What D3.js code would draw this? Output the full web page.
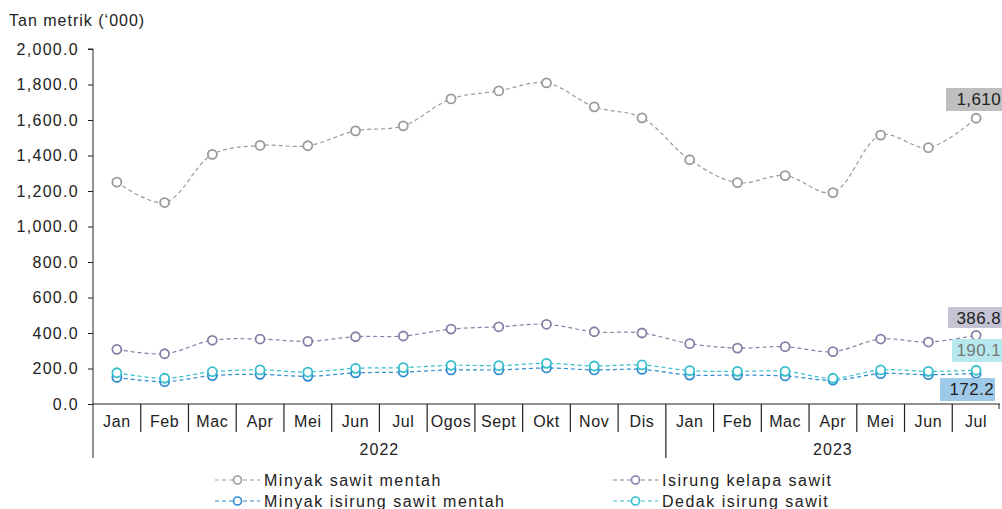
<!DOCTYPE html>
<html>
<head>
<meta charset="utf-8">
<script src="https://cdn.jsdelivr.net/npm/d3@7"></script>
<style>
    body { margin: 0; background: #fff; }
    text { font-family: "Liberation Sans", Arial, sans-serif; fill: #222; }
</style>
</head>
<body>
<svg id="chart" width="1002" height="509"></svg>
<script>
// data
let months = ["Jan", "Feb", "Mac", "Apr", "Mei", "Jun", "Jul", "Ogos", "Sept", "Okt", "Nov", "Dis",
    "Jan", "Feb", "Mac", "Apr", "Mei", "Jun", "Jul"];
let years = [{label: "2022", from: 0, to: 12}, {label: "2023", from: 12, to: 19}];
let yTicks = [0, 200, 400, 600, 800, 1000, 1200, 1400, 1600, 1800, 2000];

let minyakSawitMentah = [1250, 1135, 1406, 1457, 1455, 1539, 1567, 1719, 1764, 1809, 1674, 1612,
    1376, 1247, 1287, 1191, 1515, 1444, 1610];
let isirungKelapaSawit = [308, 283, 359, 366, 353, 379, 383, 422, 435, 449, 407, 400,
    340, 315, 323, 295, 366, 349, 386.8];
let minyakIsirungSawitMentah = [150, 126, 160, 167, 156, 175, 180, 192, 192, 203, 192, 195,
    163, 163, 158, 134, 171, 165, 172.2];
let dedakIsirungSawit = [176, 145, 182, 192, 180, 201, 205, 218, 216, 229, 214, 220,
    188, 184, 184, 145, 192, 184, 190.1];

let series = [
    {name: "Minyak sawit mentah", values: minyakSawitMentah, color: "#9a9a9a", last: "1,610", box: "#bfbfbf", txt: "#222"},
    {name: "Isirung kelapa sawit", values: isirungKelapaSawit, color: "#8282a6", last: "386.8", box: "#c4c4d4", txt: "#222"},
    {name: "Minyak isirung sawit mentah", values: minyakIsirungSawitMentah, color: "#2e8ccf", last: "172.2", box: "#9fc9e8", txt: "#222"},
    {name: "Dedak isirung sawit", values: dedakIsirungSawit, color: "#35bfcb", last: "190.1", box: "#b6e8ee", txt: "#777"}
];

let svg = d3.select("#chart");
let margin = {top: 49, left: 93, bottom: 105, right: 2};
let width = 1002, height = 509;

let x = d3.scaleBand().domain(d3.range(months.length)).range([margin.left, width - margin.right]);
let y = d3.scaleLinear().domain([0, 2000]).range([height - margin.bottom, margin.top]);
let cx = i => x(i) + x.bandwidth() / 2;
let y0 = y(0);

// y axis
let yAxis = d3.axisLeft(y).tickValues(yTicks).tickSize(5).tickPadding(9)
    .tickFormat(d => d3.format(",.1f")(d));
let gy = svg.append("g").attr("transform", "translate(" + margin.left + ",0)").call(yAxis);
gy.select(".domain").attr("d", "M-5," + y(2000) + "H0V" + (y0 + 54));
gy.selectAll("line").attr("stroke", "#222");
gy.select(".domain").attr("stroke", "#222");
gy.selectAll("text").style("font-size", "16px").style("letter-spacing", "1.3px").attr("fill", "#222");

svg.append("text").attr("x", 9).attr("y", 26).style("font-size", "16px").style("letter-spacing", "1px")
    .text("Tan metrik (\u2018000)");

// x axis with month cells and year groups
let gx = svg.append("g");
gx.append("line").attr("x1", margin.left).attr("x2", width - margin.right)
    .attr("y1", y0).attr("y2", y0).attr("stroke", "#222");
d3.range(1, months.length).forEach(i => {
    let isYear = years.some(yr => yr.from === i);
    gx.append("line").attr("x1", x(i)).attr("x2", x(i))
        .attr("y1", y0).attr("y2", isYear ? y0 + 54 : y0 + 28)
        .attr("stroke", "#222").attr("stroke-width", 1.2);
});
gx.append("line").attr("x1", x.range()[1] - 1).attr("x2", x.range()[1] - 1)
    .attr("y1", y0).attr("y2", y0 + 5).attr("stroke", "#222");
gx.selectAll("text.m").data(months).enter().append("text")
    .attr("x", (d, i) => cx(i)).attr("y", y0 + 23)
    .attr("text-anchor", "middle").style("font-size", "16px").style("letter-spacing", "0.6px").text(d => d);
gx.selectAll("text.yr").data(years).enter().append("text")
    .attr("x", d => (x(d.from) + (d.to < months.length ? x(d.to) : x.range()[1])) / 2)
    .attr("y", y0 + 51).attr("text-anchor", "middle").style("font-size", "16px").style("letter-spacing", "1px")
    .text(d => d.label);

// lines and markers
let line = d3.line().x((d, i) => cx(i)).y(d => y(d)).curve(d3.curveCatmullRom.alpha(0.5));
series.forEach(s => {
    svg.append("path").datum(s.values).attr("d", line)
        .attr("fill", "none").attr("stroke", s.color).attr("stroke-width", 1.2)
        .attr("stroke-dasharray", "4,3");
    svg.selectAll(null).data(s.values).enter().append("circle")
        .attr("cx", (d, i) => cx(i)).attr("cy", d => y(d)).attr("r", 4.5)
        .attr("fill", "#fff").attr("stroke", s.color).attr("stroke-width", 1.8);
});

// end labels
let labelBoxes = [
    {s: 0, x1: 946, y1: 88, y2: 111},
    {s: 1, x1: 948, y1: 307, y2: 328},
    {s: 3, x1: 952, y1: 339, y2: 362},
    {s: 2, x1: 940, y1: 378, y2: 401}
];
labelBoxes.forEach(b => {
    let s = series[b.s];
    let x2 = b.s === 2 ? 995 : 1002;
    svg.append("rect").attr("x", b.x1).attr("y", b.y1).attr("width", x2 - b.x1).attr("height", b.y2 - b.y1)
        .attr("fill", s.box);
    svg.append("text").attr("x", x2 - 1).attr("y", b.y1 + 17).attr("text-anchor", "end")
        .style("font-size", "17px").style("letter-spacing", "0.4px").style("fill", s.txt).text(s.last);
});

// legend
let legendPos = [[215, 480], [613, 480], [215, 501], [613, 501]];
series.forEach((s, j) => {
    let [lx, ly] = legendPos[j];
    let g = svg.append("g").attr("transform", "translate(" + [lx, ly] + ")");
    g.append("line").attr("x1", 0).attr("x2", 45).attr("y1", 0).attr("y2", 0)
        .attr("stroke", s.color).attr("stroke-width", 1.2).attr("stroke-dasharray", "4,3");
    g.append("circle").attr("cx", 22.5).attr("cy", 0).attr("r", 4)
        .attr("fill", "#fff").attr("stroke", s.color).attr("stroke-width", 1.6);
    g.append("text").attr("x", 49).attr("y", 5.5).style("font-size", "16px").style("letter-spacing", "1.5px")
        .text(s.name);
});
</script>
</body>
</html>
